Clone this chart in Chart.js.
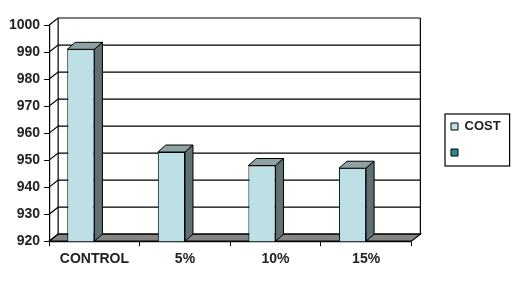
<!DOCTYPE html>
<html>
<head>
<meta charset="utf-8">
<script src="https://cdn.jsdelivr.net/npm/chart.js@4/dist/chart.umd.min.js"></script>
<style>
  html, body { margin: 0; padding: 0; background: #fff; }
  #wrap { width: 520px; height: 283px; }
</style>
</head>
<body>
<div id="wrap"><canvas id="costChart"></canvas></div>
<script>
const categories = ['CONTROL', '5%', '10%', '15%'];
const costValues = [991, 953, 948, 947];
const emptySeries = [null, null, null, null];
const yMin = 920, yMax = 1000, yStep = 10;

const wallDepth = { dx: 9, dy: -7 };
const barDepth = { dx: 8, dy: -7 };

function poly(ctx, pts, fill) {
    ctx.beginPath();
    ctx.moveTo(pts[0][0], pts[0][1]);
    for (let i = 1; i < pts.length; i++) ctx.lineTo(pts[i][0], pts[i][1]);
    ctx.closePath();
    if (fill) { ctx.fillStyle = fill; ctx.fill(); }
    ctx.stroke();
}

// back wall, side connectors and floor of the 3d box
const wallPlugin = {
    id: 'wall3d',
    beforeDatasetsDraw(chart) {
        const { ctx, chartArea: a, scales: { y } } = chart;
        const { dx, dy } = wallDepth;
        ctx.save();
        ctx.strokeStyle = '#000';
        ctx.lineWidth = 1.2;
        y.ticks.forEach(t => {
            const py = y.getPixelForValue(t.value);
            ctx.beginPath();
            ctx.moveTo(a.left, py);
            ctx.lineTo(a.left + dx, py + dy);
            ctx.lineTo(a.right + dx, py + dy);
            ctx.stroke();
        });
        ctx.beginPath();
        ctx.moveTo(a.left + dx, a.top + dy);
        ctx.lineTo(a.left + dx, a.bottom + dy);
        ctx.moveTo(a.right + dx, a.top + dy);
        ctx.lineTo(a.right + dx, a.bottom + dy);
        ctx.stroke();
        poly(ctx, [[a.left, a.bottom], [a.right, a.bottom], [a.right + dx, a.bottom + dy], [a.left + dx, a.bottom + dy]], '#858585');
        ctx.restore();
    },
    afterDatasetsDraw(chart) {
        const { ctx, chartArea: a } = chart;
        const { dx, dy } = barDepth;
        ctx.save();
        ctx.strokeStyle = '#000';
        ctx.lineWidth = 1;
        chart.getDatasetMeta(0).data.forEach(bar => {
            const l = bar.x - bar.width / 2, r = bar.x + bar.width / 2;
            const base = Math.min(bar.base, a.bottom);
            poly(ctx, [[l, bar.y], [l + dx, bar.y + dy], [r + dx, bar.y + dy], [r, bar.y]], '#8fa2a3');
            poly(ctx, [[r, bar.y], [r + dx, bar.y + dy], [r + dx, base + dy], [r, base]], '#5f7172');
        });
        ctx.restore();
    },
    afterLayout(chart) {
        // push the legend to the far right like the original
        const lg = chart.legend;
        const w = lg.width, h = lg.height;
        lg.left = 438; lg.right = lg.left + w;
        lg.top = 107; lg.bottom = lg.top + h;
    },
    afterDraw(chart) {
        const hb = chart.legend.legendHitBoxes;
        if (!hb || !hb.length) return;
        const { ctx } = chart;
        const left = hb[0].left - 6, top = hb[0].top - 6;
        const right = Math.max(...hb.map(b => b.left + b.width)) + 9;
        const last = hb[hb.length - 1];
        const bottom = last.top + last.height + 7;
        ctx.save();
        ctx.strokeStyle = '#000';
        ctx.lineWidth = 1.2;
        ctx.strokeRect(left, top, right - left, bottom - top);
        ctx.restore();
    }
};

new Chart(document.getElementById('costChart'), {
    type: 'bar',
    data: {
        labels: categories,
        datasets: [
            { label: 'COST', data: costValues, backgroundColor: '#bde0e6', borderColor: '#000', borderWidth: 1 },
            { label: '', data: emptySeries, backgroundColor: '#2a8a8c', borderColor: '#000', borderWidth: 1 }
        ]
    },
    options: {
        responsive: true,
        maintainAspectRatio: false,
        animation: false,
        categoryPercentage: 0.6,
        barPercentage: 1.0,
        layout: { padding: { top: 25, left: 5, bottom: 10, right: 36 } },
        plugins: {
            tooltip: { enabled: false },
            legend: {
                position: 'right',
                align: 'start',
                labels: {
                    boxWidth: 7, boxHeight: 7, padding: 13,
                    color: '#222',
                    font: { family: 'Liberation Sans, Arial, sans-serif', size: 13, weight: 'bold' }
                }
            }
        },
        scales: {
            x: {
                grid: { drawOnChartArea: false, tickLength: 5, color: '#000', offset: true },
                border: { color: '#000', width: 1.2 },
                ticks: { color: '#222', padding: 5, font: { family: 'Liberation Sans, Arial, sans-serif', size: 14, weight: 'bold' } }
            },
            y: {
                min: yMin, max: yMax,
                grid: { drawOnChartArea: false, tickLength: 5, color: '#000' },
                border: { color: '#000', width: 1.2 },
                ticks: {
                    stepSize: yStep, color: '#222', padding: 4,
                    font: { family: 'Liberation Sans, Arial, sans-serif', size: 14, weight: 'bold' },
                    callback: v => String(v)
                }
            }
        }
    },
    plugins: [wallPlugin]
});
</script>
</body>
</html>
